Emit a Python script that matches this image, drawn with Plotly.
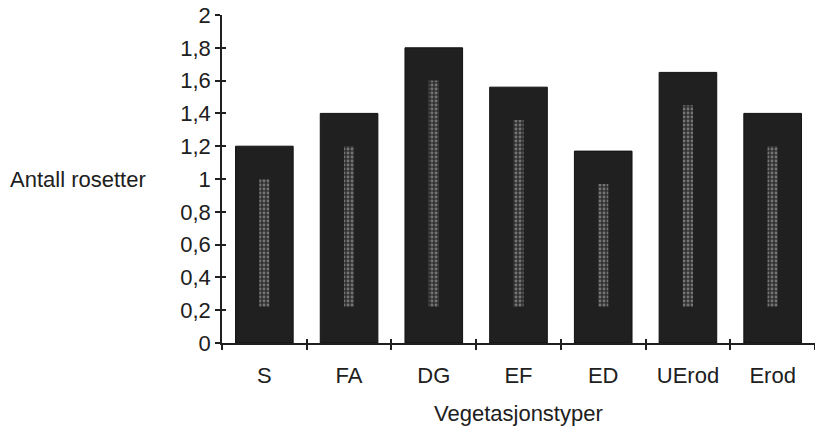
import plotly.graph_objects as go

# Mean number of rosettes per vegetation type
categories = ["S", "FA", "DG", "EF", "ED", "UErod", "Erod"]
values = [1.20, 1.40, 1.80, 1.56, 1.17, 1.65, 1.40]

y_ticks = [0, 0.2, 0.4, 0.6, 0.8, 1.0, 1.2, 1.4, 1.6, 1.8, 2.0]
y_tick_labels = ["0", "0,2", "0,4", "0,6", "0,8", "1", "1,2", "1,4", "1,6", "1,8", "2"]

FONT = "Liberation Sans, Arial, Helvetica, sans-serif"
INK = "#202020"
FS = 22

fig = go.Figure()

# main dark bars
fig.add_trace(go.Bar(
    x=categories, y=values, width=0.68,
    marker=dict(color="#202020", line=dict(color="#111111", width=1)),
    showlegend=False, hoverinfo="x+y",
))

# speckled light streak down the middle of each bar
streak_base = 0.22
streak_len = [v - 0.2 - streak_base for v in values]
fig.add_trace(go.Bar(
    x=categories, y=streak_len, base=[streak_base] * len(values), width=0.12,
    marker=dict(color="rgba(120,120,120,0.3)", line=dict(width=0),
                pattern=dict(shape=".", fgcolor="rgba(220,220,220,0.8)",
                             bgcolor="rgba(100,100,100,0.25)", size=4, solidity=0.4)),
    showlegend=False, hoverinfo="skip",
))

# overlay axes that provide the inner half of the crossing tick marks
fig.add_trace(go.Scatter(x=[None], y=[None], xaxis="x2", yaxis="y2",
                         showlegend=False, hoverinfo="skip"))

n = len(categories)
fig.update_layout(
    width=815, height=433,
    margin=dict(l=222, r=0, t=15, b=90),
    paper_bgcolor="white", plot_bgcolor="white",
    barmode="overlay",
    font=dict(family=FONT, size=FS, color=INK),
    xaxis=dict(
        type="category", range=[-0.5, n - 0.5],
        showline=True, linecolor=INK, linewidth=1.5,
        ticks="outside", tickson="boundaries", ticklen=5, tickwidth=1.5, tickcolor=INK,
        ticklabelstandoff=12, showgrid=False, zeroline=False,
        tickfont=dict(family=FONT, size=FS, color=INK),
    ),
    yaxis=dict(
        range=[0, 2], tickvals=y_ticks, ticktext=y_tick_labels,
        showline=True, linecolor=INK, linewidth=1.5,
        ticks="outside", ticklen=5, tickwidth=1.5, tickcolor=INK,
        showgrid=False, zeroline=False,
        tickfont=dict(family=FONT, size=FS, color=INK),
    ),
    xaxis2=dict(
        overlaying="x", anchor="y2", range=[-0.5, n - 0.5],
        tickvals=[i - 0.5 for i in range(n + 1)],
        ticks="inside", ticklen=4, tickwidth=1.5, tickcolor=INK,
        showticklabels=False, showgrid=False, zeroline=False, showline=False,
    ),
    yaxis2=dict(
        overlaying="y", anchor="x2", range=[0, 2], tickvals=y_ticks,
        ticks="inside", ticklen=4, tickwidth=1.5, tickcolor=INK,
        showticklabels=False, showgrid=False, zeroline=False, showline=False,
    ),
    annotations=[
        dict(text="Antall rosetter", xref="paper", yref="y", x=0, y=1.0,
             xanchor="right", yanchor="middle", xshift=-74, showarrow=False,
             font=dict(family=FONT, size=FS, color=INK)),
        dict(text="Vegetasjonstyper", xref="paper", yref="paper", x=0.5, y=0,
             xanchor="center", yanchor="middle", yshift=-70, showarrow=False,
             font=dict(family=FONT, size=FS, color=INK)),
    ],
)

fig.write_html("out.html")
